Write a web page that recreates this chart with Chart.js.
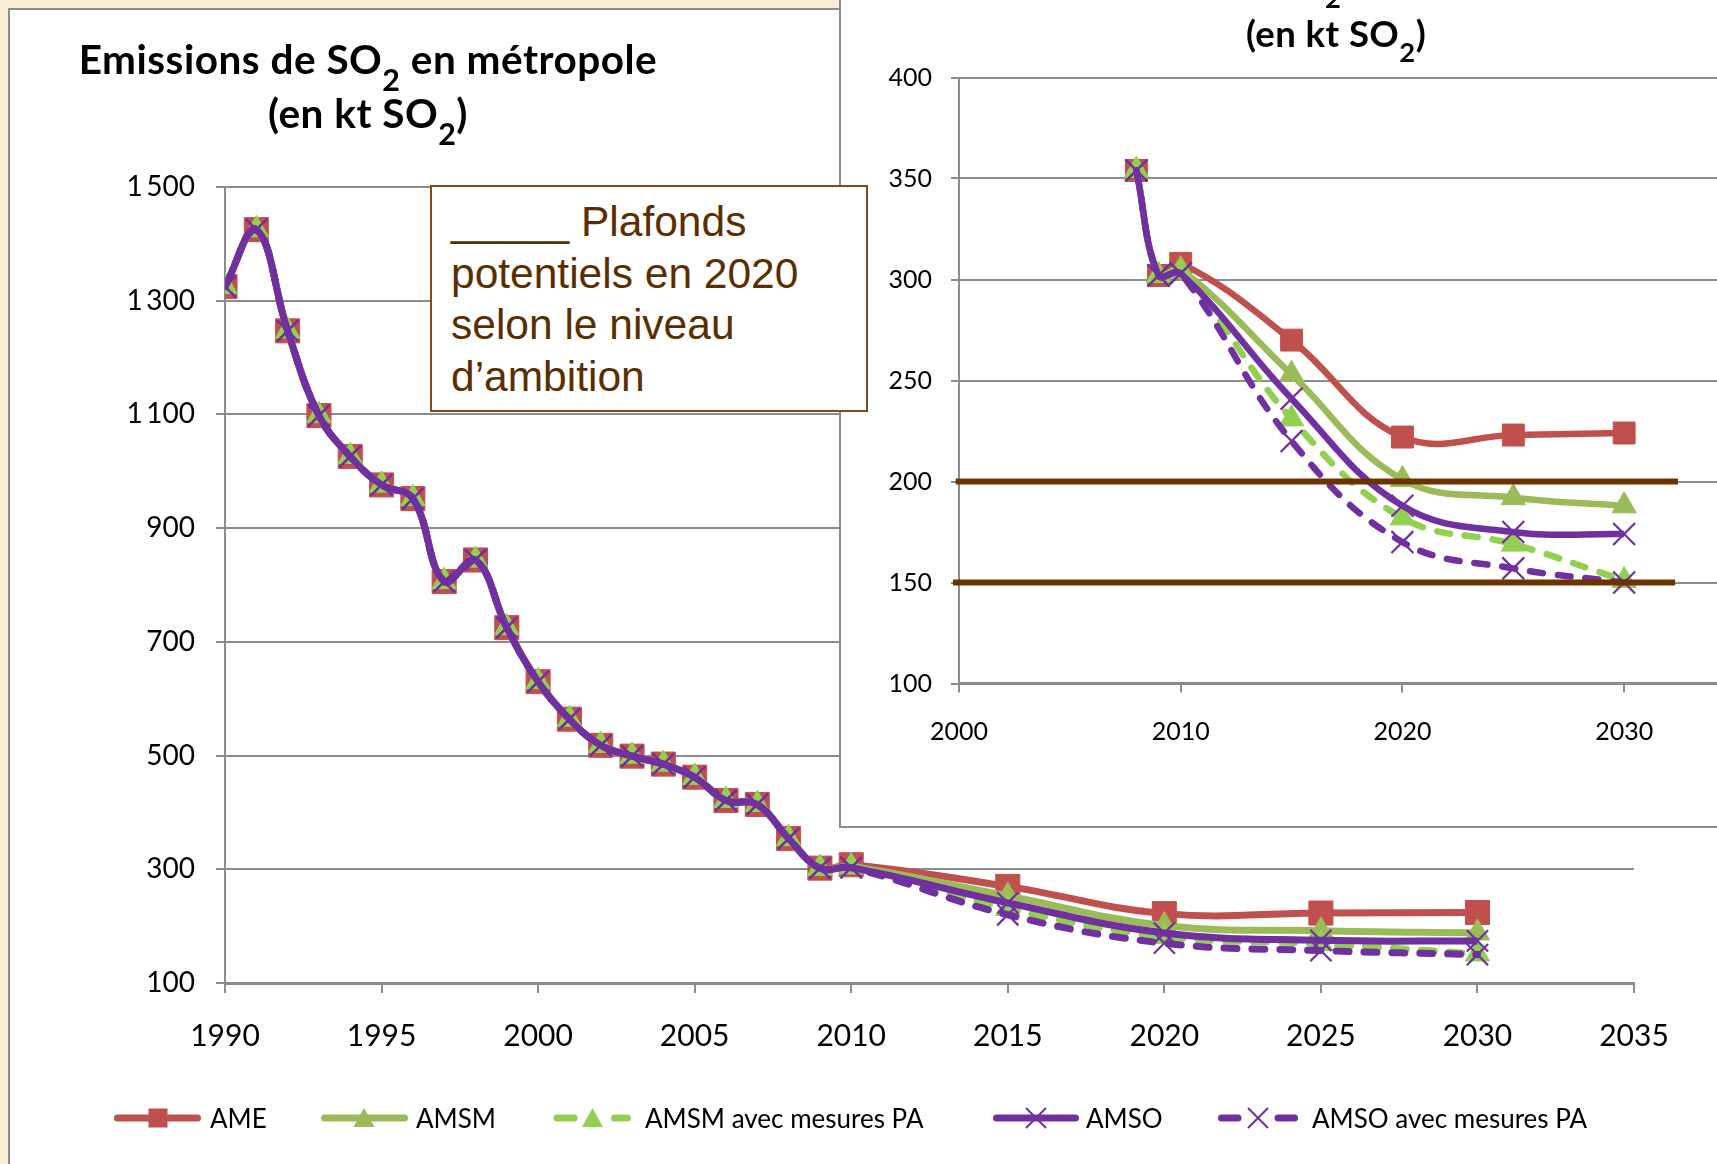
<!DOCTYPE html>
<html><head><meta charset="utf-8">
<script src="https://cdn.jsdelivr.net/npm/chart.js@4.4.0/dist/chart.umd.min.js"></script>
<style>
html,body{margin:0;padding:0}
body{width:1717px;height:1164px;overflow:hidden;position:relative;background:#F8EED6;font-family:Lato,"Open Sans",sans-serif}
#panel{position:absolute;left:8px;top:8px;width:1760px;height:1200px;background:#fff;border-left:2px solid #8C8C8C;border-top:2px solid #8C8C8C}
#mainCanvas{position:absolute;left:0;top:0}
.t{position:absolute;transform:translateX(-50%);line-height:1;font-weight:700;white-space:nowrap;color:#000}
.s{font-size:0.75em;position:relative;top:0.57em}
#inset{position:absolute;left:839px;top:0;width:900px;height:826px;background:#fff;border-left:2px solid #8C8C8C;border-bottom:2px solid #8C8C8C;overflow:hidden}
#insetCanvas{position:absolute;left:0;top:0}
#box{position:absolute;left:430px;top:185px;width:438px;height:227px;box-sizing:border-box;border:2px solid #7F4A1E;background:#fff;color:#5B2E00;font-family:"Liberation Sans",Arial,sans-serif;font-size:42.5px;line-height:51.5px;padding:9px 0 0 19px;white-space:nowrap}
.lg{position:absolute;top:1103px;font-size:26px;line-height:30px;color:#000;white-space:nowrap}
#legendIcons{position:absolute;left:0;top:1098px}
</style>
</head><body>
<div id="panel"></div>
<canvas id="mainCanvas" width="1717" height="1164"></canvas>
<div class="t" style="left:368px;top:39px;font-size:40.5px;letter-spacing:0.5px">Emissions de SO<span class="s">2</span> en métropole</div>
<div class="t" style="left:368px;top:93px;font-size:40.5px;letter-spacing:0.5px">(en kt SO<span class="s">2</span>)</div>

<div id="inset">
  <canvas id="insetCanvas" width="960" height="826"></canvas>
  <div class="t" style="left:471px;top:-40px;font-size:36.5px;letter-spacing:0.45px">Emissions de SO<span class="s">2</span> en métropole</div>
  <div class="t" style="left:495px;top:14.5px;font-size:36.5px;letter-spacing:0.45px">(en kt SO<span class="s">2</span>)</div>
</div>

<div id="box">_____ Plafonds<br>potentiels en 2020<br>selon le niveau<br>d’ambition</div>

<svg id="legendIcons" width="1717" height="40" xmlns="http://www.w3.org/2000/svg">
  <line x1="117.5" y1="20" x2="197.5" y2="20" stroke="#C0504D" stroke-width="7" stroke-linecap="round"/>
  <rect x="148.5" y="10.5" width="19" height="19" fill="#C0504D"/>
  <line x1="324.5" y1="20" x2="404.5" y2="20" stroke="#9BBB59" stroke-width="7" stroke-linecap="round"/>
  <polygon points="364,10 353.5,29 374.5,29" fill="#9BBB59"/>
  <line x1="557" y1="20" x2="574" y2="20" stroke="#92D050" stroke-width="7" stroke-linecap="round"/>
  <line x1="614.5" y1="20" x2="627.5" y2="20" stroke="#92D050" stroke-width="7" stroke-linecap="round"/>
  <polygon points="592.5,10 582,29 603,29" fill="#92D050"/>
  <line x1="996.5" y1="20" x2="1075.5" y2="20" stroke="#7030A0" stroke-width="7" stroke-linecap="round"/>
  <path d="M1026,10 L1046,30 M1046,10 L1026,30" stroke="#7030A0" stroke-width="2"/>
  <line x1="1221.5" y1="20" x2="1238" y2="20" stroke="#7030A0" stroke-width="7" stroke-linecap="round"/>
  <line x1="1278" y1="20" x2="1294.5" y2="20" stroke="#7030A0" stroke-width="7" stroke-linecap="round"/>
  <path d="M1248,10 L1268,30 M1268,10 L1248,30" stroke="#7030A0" stroke-width="2"/>
</svg>
<div class="lg" style="left:210px">AME</div>
<div class="lg" style="left:416px">AMSM</div>
<div class="lg" style="left:645px">AMSM avec mesures PA</div>
<div class="lg" style="left:1086px">AMSO</div>
<div class="lg" style="left:1312px">AMSO avec mesures PA</div>

<script>
// ---------- DATA ----------
const histYears = [1990,1991,1992,1993,1994,1995,1996,1997,1998,1999,2000,2001,2002,2003,2004,2005,2006,2007,2008,2009];
const histValues = [1325,1425,1247,1098,1026,976,952,806,844,725,630,564,518,499,485,462,421,414,354,302];
const projYears = [2010,2015,2020,2025,2030];
const ameValues = [308,270,222,223,224];
const amsmValues = [305,253,201,192,188];
const amsmPaValues = [304,231,182,169,151];
const amsoValues = [303,241,188,175,174];
const amsoPaValues = [303,220,170,157,150];
const seriesNames = ['AME','AMSM','AMSM avec mesures PA','AMSO','AMSO avec mesures PA'];
const capLevels = [200,150];
const capStartYears = [1999.85,1999.73];
const capEndYears = [2032.43,2032.3];
const mainYTicks = {min:100,max:1500,step:200};
const mainXTicks = {min:1990,max:2035,step:5};
const insetYTicks = {min:100,max:400,step:50};
const insetXTicks = {min:2000,max:2035,step:10};
const insetFirstYear = 2008;

// ---------- STYLES ----------
const seriesValues = [ameValues, amsmValues, amsmPaValues, amsoValues, amsoPaValues];
const styles = [
  {color:'#C0504D', marker:'rect', dashed:false},
  {color:'#9BBB59', marker:'triangle', dashed:false},
  {color:'#92D050', marker:'triangle', dashed:true},
  {color:'#7030A0', marker:'crossRot', dashed:false},
  {color:'#7030A0', marker:'crossRot', dashed:true}
];

function points(values, fromYear){
  const xs = histYears.concat(projYears);
  const ys = histValues.concat(values);
  return xs.map((x,i)=>({x:x, y:ys[i]})).filter(p=>p.x>=fromYear);
}

function makeDatasets(fromYear, sizes, lw){
  return seriesNames.map((name,i)=>{
    const st = styles[i];
    return {
      label:name,
      data:points(seriesValues[i], fromYear),
      borderColor:st.color,
      backgroundColor:st.color,
      borderWidth:lw,
      borderDash: st.dashed ? [13,15] : [],
      borderCapStyle: st.dashed ? 'round' : 'butt',
      borderJoinStyle:'round',
      tension:0.4,
      pointStyle:st.marker,
      pointRadius:sizes[st.marker],
      pointHoverRadius:sizes[st.marker],
      pointBorderWidth: st.marker==='crossRot' ? 2.2 : 1,
      pointBorderColor:st.color,
      pointBackgroundColor:st.color,
      order: seriesNames.length - i
    };
  });
}

const gridGrey = '#8C8C8C';
Chart.defaults.font.family = 'Lato';
Chart.defaults.color = '#000';

function fmtThousands(v){
  const s = String(v);
  return s.length > 3 ? s.slice(0, s.length-3) + '\u2009' + s.slice(-3) : s;
}

// ---------- MAIN CHART ----------
new Chart(document.getElementById('mainCanvas'), {
  type:'line',
  data:{datasets: makeDatasets(histYears[0], {rect:17, triangle:14, crossRot:15}, 7)},
  options:{
    responsive:false, animation:false, devicePixelRatio:1,
    layout:{padding:{top:187,left:0,right:83,bottom:81}},
    plugins:{legend:{display:false}, tooltip:{enabled:false}},
    scales:{
      x:{type:'linear', min:mainXTicks.min, max:mainXTicks.max,
        ticks:{stepSize:mainXTicks.step, callback:v=>String(v), font:{size:30}, color:'#000', padding:25, maxRotation:0, autoSkip:false},
        grid:{drawOnChartArea:false, drawTicks:true, tickLength:10, color:gridGrey, lineWidth:2},
        border:{display:true, color:gridGrey, width:3},
        afterFit:s=>{s.height=100;}
      },
      y:{type:'linear', min:mainYTicks.min, max:mainYTicks.max,
        ticks:{stepSize:mainYTicks.step, callback:v=>fmtThousands(v), font:{size:28}, color:'#000', padding:21},
        grid:{color:gridGrey, lineWidth:2, tickLength:9},
        border:{display:true, color:gridGrey, width:2},
        afterFit:s=>{s.width=225;}
      }
    }
  }
});

// ---------- INSET CHART ----------
const insetDatasets = makeDatasets(insetFirstYear, {rect:15.5, triangle:14, crossRot:15.5}, 6.5);
capLevels.forEach((lvl,i)=>{
  insetDatasets.push({
    label:'Plafond '+lvl,
    data:[{x:capStartYears[i], y:lvl},{x:capEndYears[i], y:lvl}],
    borderColor:'#6B3300', borderWidth:6, pointRadius:0, tension:0,
    borderCapStyle:'butt', order:-1, clip:false
  });
});

new Chart(document.getElementById('insetCanvas'), {
  type:'line',
  data:{datasets: insetDatasets},
  options:{
    responsive:false, animation:false, devicePixelRatio:1,
    layout:{padding:{top:77.5,left:0,right:66,bottom:42.5}},
    plugins:{legend:{display:false}, tooltip:{enabled:false}},
    scales:{
      x:{type:'linear', min:insetXTicks.min, max:insetXTicks.max,
        ticks:{stepSize:insetXTicks.step, callback:v=>(v % insetXTicks.step === 0 ? String(v) : ''), font:{size:25}, color:'#000', padding:24.5, maxRotation:0, autoSkip:false},
        grid:{drawOnChartArea:false, drawTicks:true, tickLength:9, color:gridGrey, lineWidth:2},
        border:{display:true, color:gridGrey, width:3},
        afterFit:s=>{s.height=100;}
      },
      y:{type:'linear', min:insetYTicks.min, max:insetYTicks.max,
        ticks:{stepSize:insetYTicks.step, font:{size:25}, color:'#000', padding:19},
        grid:{color:gridGrey, lineWidth:2, tickLength:8},
        border:{display:true, color:gridGrey, width:2},
        afterFit:s=>{s.width=118;}
      }
    }
  }
});
</script>
</body></html>
